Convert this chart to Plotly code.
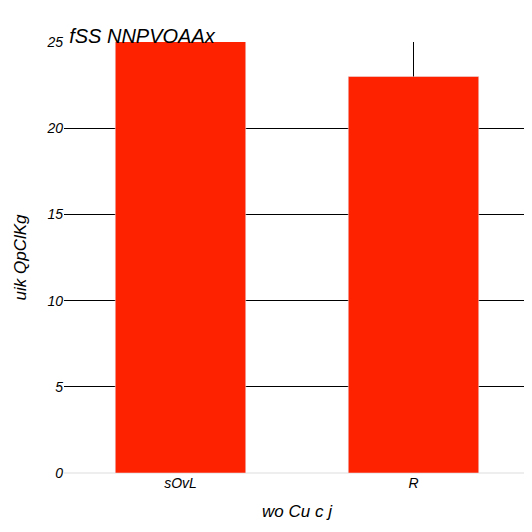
import plotly.graph_objects as go

categories = ["sOvL", "R"]
values = [25.6, 23]
errors_up = [0, 3]
errors_down = [0, 0]

fig = go.Figure(go.Bar(x=categories, y=values, marker_color="#ff2200",
                       error_y=dict(type="data", array=errors_up, arrayminus=errors_down,
                                    visible=True, color="black", thickness=1, width=0)))
fig.update_layout(
    width=532, height=532, plot_bgcolor="white", paper_bgcolor="white",
    margin=dict(l=56, r=10, t=34, b=67),
    font=dict(family="Liberation Sans", size=14, color="black"),
    title=dict(text="<i>fSS NNPVOAAx</i>", x=0.115, y=0.96, xanchor="left", font=dict(size=20)),
    bargap=0.44, showlegend=False,
)
fig.update_xaxes(title_text="<i>wo Cu c j</i>", tickprefix="<i>", ticksuffix="</i>")
fig.update_yaxes(title_text="<i>uik QpClKg</i>", range=[0, 25], dtick=5, showgrid=True,
                 gridcolor="black", gridwidth=1, zeroline=True, zerolinecolor="#eeeeee",
                 tickprefix="<i>", ticksuffix="</i>")
fig.write_html("out.html")
